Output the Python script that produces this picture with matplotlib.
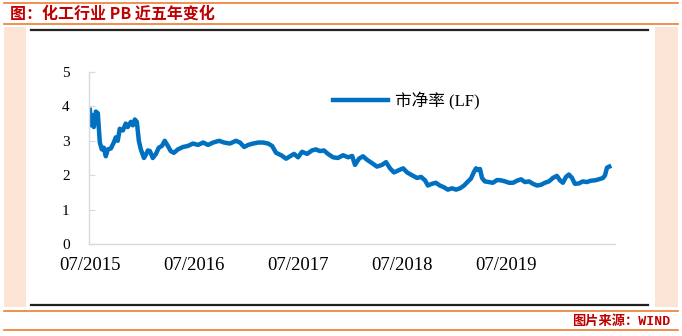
import numpy as np
import pandas as pd
import matplotlib
matplotlib.use("Agg")
import matplotlib.pyplot as plt
import matplotlib.dates as mdates
from matplotlib.lines import Line2D
from matplotlib.patches import Rectangle

# PB (LF) of the chemical industry
DATES = [
    "2015-07-01", "2015-07-05", "2015-07-08", "2015-07-15", "2015-07-22", "2015-07-29",
    "2015-08-05", "2015-08-12", "2015-08-19", "2015-08-26", "2015-09-02", "2015-09-13",
    "2015-09-23", "2015-09-30", "2015-10-07", "2015-10-14", "2015-10-25", "2015-11-04",
    "2015-11-11", "2015-11-22", "2015-11-29", "2015-12-06", "2015-12-13", "2015-12-20",
    "2015-12-27", "2016-01-07", "2016-01-14", "2016-01-21", "2016-01-28", "2016-02-07",
    "2016-02-18", "2016-02-28", "2016-03-10", "2016-03-20", "2016-03-31", "2016-04-10",
    "2016-04-21", "2016-05-05", "2016-05-23", "2016-06-09", "2016-06-27", "2016-07-15",
    "2016-08-02", "2016-08-19", "2016-09-06", "2016-09-27", "2016-10-14", "2016-11-04",
    "2016-11-25", "2016-12-09", "2016-12-24", "2017-01-07", "2017-01-24", "2017-02-11",
    "2017-02-28", "2017-03-18", "2017-04-01", "2017-04-15", "2017-05-03", "2017-05-20",
    "2017-06-03", "2017-06-17", "2017-07-01", "2017-07-15", "2017-08-02", "2017-08-19",
    "2017-09-02", "2017-09-16", "2017-09-30", "2017-10-14", "2017-11-01", "2017-11-18",
    "2017-12-06", "2017-12-24", "2018-01-07", "2018-01-17", "2018-01-31", "2018-02-14",
    "2018-02-28", "2018-03-18", "2018-04-04", "2018-04-22", "2018-05-06", "2018-05-20",
    "2018-06-03", "2018-06-21", "2018-07-05", "2018-07-19", "2018-08-05", "2018-08-23",
    "2018-09-06", "2018-09-20", "2018-09-30", "2018-10-14", "2018-10-28", "2018-11-11",
    "2018-11-25", "2018-12-09", "2018-12-24", "2019-01-07", "2019-01-21", "2019-02-04",
    "2019-02-18", "2019-02-28", "2019-03-11", "2019-03-18", "2019-03-25", "2019-04-01",
    "2019-04-08", "2019-04-18", "2019-05-02", "2019-05-16", "2019-05-31", "2019-06-14",
    "2019-06-28", "2019-07-12", "2019-07-26", "2019-08-09", "2019-08-23", "2019-09-06",
    "2019-09-20", "2019-10-04", "2019-10-18", "2019-11-01", "2019-11-15", "2019-11-29",
    "2019-12-13", "2019-12-27", "2020-01-07", "2020-01-17", "2020-01-28", "2020-02-07",
    "2020-02-18", "2020-02-28", "2020-03-13", "2020-03-27", "2020-04-10", "2020-04-24",
    "2020-05-08", "2020-05-22", "2020-06-06", "2020-06-13", "2020-06-20", "2020-06-28",
]
PB = [
    3.90, 3.45, 3.75, 3.40, 3.85, 3.80,
    2.95, 2.75, 2.80, 2.55, 2.75, 2.78,
    2.95, 3.10, 3.00, 3.35, 3.30, 3.50,
    3.40, 3.55, 3.45, 3.62, 3.55, 3.00,
    2.75, 2.50, 2.60, 2.72, 2.70, 2.50,
    2.62, 2.80, 2.85, 3.00, 2.85, 2.70,
    2.65, 2.75, 2.82, 2.85, 2.92, 2.88,
    2.95, 2.88, 2.95, 3.00, 2.95, 2.92,
    3.00, 2.95, 2.82, 2.88, 2.92, 2.95,
    2.95, 2.92, 2.85, 2.65, 2.58, 2.48,
    2.55, 2.62, 2.52, 2.68, 2.62, 2.72,
    2.75, 2.70, 2.72, 2.62, 2.52, 2.50,
    2.58, 2.52, 2.56, 2.30, 2.48, 2.55,
    2.45, 2.35, 2.25, 2.30, 2.38, 2.20,
    2.08, 2.15, 2.20, 2.08, 2.00, 1.92,
    1.95, 1.85, 1.70, 1.75, 1.78, 1.70,
    1.65, 1.58, 1.62, 1.58, 1.62, 1.70,
    1.82, 1.90, 2.10, 2.20, 2.15, 2.18,
    1.92, 1.82, 1.80, 1.78, 1.86, 1.85,
    1.82, 1.78, 1.78, 1.84, 1.88, 1.80,
    1.82, 1.75, 1.70, 1.72, 1.78, 1.82,
    1.92, 1.98, 1.85, 1.78, 1.95, 2.02,
    1.92, 1.75, 1.76, 1.82, 1.80, 1.84,
    1.85, 1.88, 1.92, 2.00, 2.22, 2.25,
]
XTICKS = ["2015-07-01", "2016-07-01", "2017-07-01", "2018-07-01", "2019-07-01"]
YTICKS = [0, 1, 2, 3, 4, 5]
SERIES_NAME = "市净率 (LF)"
TITLE = "图：化工行业 PB 近五年变化"
SOURCE = "图片来源：WIND"

W, H = 682, 336
ORANGE = "#ED7D31"
PEACH = "#FCE4D6"
RED = "#C00000"
BLUE = "#0070C0"


def fx(x):
    return x / W


def fy(y):
    return 1 - y / H


fig = plt.figure(figsize=(W / 100, H / 100), dpi=100)
fig.patch.set_facecolor("white")

# frame decorations
for x0, x1 in [(4, 26), (655, 678)]:
    fig.add_artist(Rectangle((fx(x0), fy(307)), fx(x1) - fx(x0), fy(27) - fy(307),
                             transform=fig.transFigure, color=PEACH, lw=0))
for y in [3, 24, 311, 330]:
    fig.add_artist(Line2D([fx(4), fx(678)], [fy(y), fy(y)], transform=fig.transFigure,
                          color=ORANGE, lw=1.2))
for y in [29.5, 305]:
    fig.add_artist(Line2D([fx(31), fx(648)], [fy(y), fy(y)], transform=fig.transFigure,
                          color="#222222", lw=1.6))

fig.text(fx(10), fy(14), TITLE, color=RED, fontsize=11.5, fontweight="bold",
         family=["Noto Sans CJK SC", "DejaVu Sans"], ha="left", va="center")
fig.text(fx(670), fy(322), SOURCE, color=RED, fontsize=9.5, fontweight="bold",
         family=["Liberation Mono", "Noto Sans CJK SC"], ha="right", va="center")

# main chart
ax = fig.add_axes([fx(89), fy(244), fx(615) - fx(89), fy(72) - fy(244)])
dates = pd.to_datetime(DATES)
ax.plot(dates, PB, color=BLUE, lw=3.2, solid_joinstyle="round", label=SERIES_NAME)

ax.set_xlim(pd.Timestamp("2015-06-28"), pd.Timestamp("2020-07-18"))
ax.set_ylim(0, 5)
ax.set_yticks(YTICKS)
ax.set_yticklabels([str(v) for v in YTICKS], family="Liberation Serif", fontsize=11)
ax.set_xticks(pd.to_datetime(XTICKS))
ax.xaxis.set_major_formatter(mdates.DateFormatter("%m/%Y"))
for lbl in ax.get_xticklabels():
    lbl.set_family("Liberation Serif")
    lbl.set_fontsize(13.5)
ax.tick_params(axis="x", length=0, pad=9)
ax.tick_params(axis="y", direction="in", length=4.5, color="#D9D9D9", pad=14)
for s in ["top", "right"]:
    ax.spines[s].set_visible(False)
for s in ["left", "bottom"]:
    ax.spines[s].set_color("#D9D9D9")
    ax.spines[s].set_linewidth(1.0)

ax.legend(loc="center left", bbox_to_anchor=(fx(333), fy(101)), bbox_transform=fig.transFigure,
          frameon=False, handlelength=3.3, handletextpad=0.4, borderpad=0, borderaxespad=0,
          prop={"family": ["Liberation Serif", "Noto Sans CJK SC"], "size": 12})

fig.savefig("out.png", dpi=100, facecolor="white")
